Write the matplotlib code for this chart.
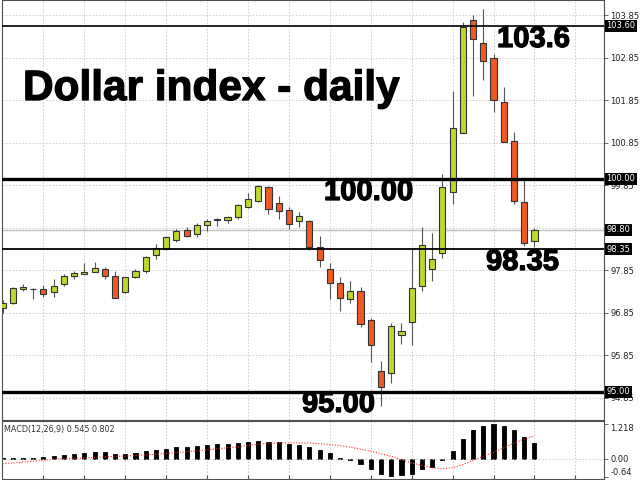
import matplotlib
matplotlib.use('Agg')
import matplotlib.pyplot as plt
import matplotlib.transforms as mtransforms
import matplotlib.patheffects as pe

# daily candles (oldest -> newest)
opens = [96.96, 97.09, 97.42, 97.42, 97.42, 97.33, 97.52, 97.72, 97.76, 97.80,
         97.88, 97.71, 97.33, 97.69, 97.84, 98.20, 98.35, 98.56, 98.79, 98.70,
         98.92, 99.03, 99.04, 99.11, 99.35, 99.48, 99.80, 99.43, 99.26, 99.02,
         99.00, 98.41, 97.88, 97.55, 97.17, 97.37, 96.68, 95.49, 95.43, 96.33,
         96.64, 97.48, 97.88, 98.25, 99.69, 101.09, 103.74, 103.19, 102.84, 101.80,
         100.89, 99.45, 98.54]
closes = [97.09, 97.43, 97.47, 97.42, 97.29, 97.48, 97.71, 97.78, 97.81, 97.91,
          97.72, 97.21, 97.69, 97.84, 98.16, 98.38, 98.63, 98.78, 98.67, 98.92,
          99.02, 99.06, 99.10, 99.39, 99.52, 99.84, 99.29, 99.24, 98.94, 99.13,
          98.41, 98.09, 97.56, 97.19, 97.37, 96.60, 96.09, 95.10, 96.54, 96.42,
          97.43, 98.45, 98.11, 99.82, 101.19, 103.58, 103.29, 102.78, 101.86, 100.86,
          99.47, 98.50, 98.80]
highs = [97.15, 97.45, 97.52, 97.44, 97.50, 97.64, 97.76, 97.84, 98.02, 98.05,
         97.92, 97.84, 97.70, 97.88, 98.19, 98.46, 98.64, 98.82, 98.88, 98.97,
         99.05, 99.08, 99.13, 99.41, 99.66, 99.86, 99.84, 99.61, 99.33, 99.23,
         99.04, 98.66, 98.02, 97.70, 97.60, 97.45, 96.72, 95.72, 96.62, 96.62,
         98.37, 98.88, 98.72, 100.12, 102.08, 103.70, 103.86, 103.99, 102.94, 102.16,
         101.11, 100.00, 98.85]
lows = [96.85, 97.06, 97.37, 97.18, 97.22, 97.22, 97.48, 97.64, 97.76, 97.80,
        97.65, 97.19, 97.31, 97.66, 97.78, 98.11, 98.33, 98.52, 98.64, 98.63,
        98.78, 98.90, 98.96, 99.05, 99.32, 99.46, 99.18, 99.05, 98.83, 98.88,
        98.33, 97.94, 97.17, 96.90, 97.09, 96.51, 95.70, 94.66, 95.19, 96.12,
        96.09, 97.37, 97.61, 98.13, 99.41, 101.09, 101.94, 102.33, 101.58, 100.86,
        99.41, 98.42, 98.41]

# MACD(12,26,9)
macd_hist = [0.02, 0.02, 0.02, 0.02, 0.07, 0.09, 0.14, 0.16, 0.19, 0.23,
             0.23, 0.16, 0.17, 0.21, 0.26, 0.30, 0.35, 0.41, 0.42, 0.44,
             0.49, 0.52, 0.53, 0.55, 0.59, 0.63, 0.60, 0.58, 0.53, 0.50,
             0.41, 0.30, 0.19, 0.03, -0.05, -0.19, -0.35, -0.52, -0.60, -0.57,
             -0.51, -0.35, -0.28, -0.05, 0.28, 0.70, 0.99, 1.16, 1.218, 1.16,
             0.99, 0.77, 0.545]
macd_signal = [-0.17, -0.14, -0.11, -0.08, -0.05, -0.01, 0.01, 0.02, 0.03, 0.05,
               0.07, 0.09, 0.10, 0.12, 0.14, 0.16, 0.19, 0.22, 0.25, 0.28,
               0.32, 0.35, 0.39, 0.42, 0.47, 0.51, 0.54, 0.56, 0.56, 0.56,
               0.55, 0.53, 0.50, 0.46, 0.41, 0.34, 0.27, 0.18, 0.09, -0.03,
               -0.14, -0.23, -0.31, -0.35, -0.30, -0.20, -0.05, 0.09, 0.23, 0.38,
               0.55, 0.69, 0.80]

price_ticks = [94.85, 95.85, 96.85, 97.85, 98.85, 99.85, 100.85, 101.85, 102.85, 103.85]
price_tick_labels = ['94.85', '95.85', '96.85', '97.85', '', '99.85',
                     '100.85', '101.85', '102.85', '103.85']
levels = [103.60, 100.00, 98.35, 95.00]
level_widths = [1.2, 2.4, 1.3, 2.4]
bid = 98.80
box_labels = ['103.60', '100.00', '98.80', '98.35', '95.00']
box_values = [103.60, 100.00, 98.80, 98.35, 95.00]
macd_ticks = [1.218, 0.0, -0.64]

up_col = '#bfd62e'
down_col = '#ef5a24'
grid_kw = dict(color='#c8c8c8', ls=(0, (2, 2)), lw=0.6)
spine_col = '#505050'

W, H = 640, 480
fig = plt.figure(figsize=(6.4, 4.8), dpi=100)
ax = fig.add_axes([2 / W, 60 / H, 602 / W, 420 / H])
ax2 = fig.add_axes([2 / W, 1 / H, 602 / W, 58 / H], sharex=ax)

x = list(range(len(opens)))

# candles
ax.vlines(x, lows, highs, color='#555555', lw=0.8, zorder=2)
bottoms = [min(o, c) for o, c in zip(opens, closes)]
heights = [abs(c - o) for o, c in zip(opens, closes)]
cols = [up_col if c > o else (down_col if c < o else 'black') for o, c in zip(opens, closes)]
ax.bar(x, heights, bottom=bottoms, width=0.6, color=cols, edgecolor='#333333',
       linewidth=0.8, zorder=3)

ax.axhline(bid, color='#c0c0c0', lw=1.0, zorder=1)
for lv, lw in zip(levels, level_widths):
    ax.axhline(lv, color='black', lw=lw, zorder=4)

ax.set_xlim(-0.05, 58.8)
ax.set_ylim(94.33, 104.21)
ax.set_yticks(price_ticks)
ax.set_yticklabels(price_tick_labels)
ax.set_xticks(range(4, 57, 4))
ax.yaxis.tick_right()
ax.tick_params(axis='y', length=3, width=0.6, color=spine_col, labelsize=6,
               labelcolor='#222222', pad=1.5)
ax.tick_params(axis='x', length=0, labelbottom=False)
ax.grid(True, **grid_kw)
ax.set_axisbelow(True)

blend = mtransforms.blended_transform_factory(ax.transAxes, ax.transData)
for lab, v in zip(box_labels, box_values):
    ax.text(1.004, v, lab, transform=blend, ha='left', va='center', fontsize=6,
            color='white', zorder=10, clip_on=False,
            bbox=dict(boxstyle='square,pad=0.18', fc='black', ec='none'))

# MACD panel
ax2.bar(x, macd_hist, width=0.4, color='black', edgecolor='black', linewidth=0.6)
ax2.plot(x, macd_signal, color='#ff3030', ls=(0, (1, 1.5)), lw=0.8)
ax2.axhline(0, **grid_kw)
ax2.set_ylim(-0.70, 1.32)
ax2.set_yticks(macd_ticks)
ax2.set_yticklabels(['1.218', '0.00', '-0.64'])
ax2.yaxis.tick_right()
ax2.tick_params(axis='y', length=3, width=0.6, color=spine_col, labelsize=6,
                labelcolor='#222222', pad=1.5)
labs = ax2.get_yticklabels()
labs[0].set_va('top')
labs[2].set_va('bottom')
ax2.tick_params(axis='x', direction='in', length=3, color=spine_col, labelbottom=False)
ax2.xaxis.grid(True, **grid_kw)
ax2.set_axisbelow(True)
ax2.text(0.004, 0.86, 'MACD(12,26,9) 0.545 0.802', transform=ax2.transAxes,
         fontsize=5.8, color='#333333', ha='left', va='center')

for a in (ax, ax2):
    for s in a.spines.values():
        s.set_color(spine_col)
        s.set_linewidth(0.8)

# annotations
def px(xp, yp):
    return xp / W, 1 - yp / H

heavy = [pe.withStroke(linewidth=0.9, foreground='black')]
big = dict(family='Liberation Sans', weight='bold', color='black', va='baseline',
           ha='left', path_effects=heavy)
fig.text(*px(23, 100), 'Dollar index - daily', fontsize=30.5, **big)
fig.text(*px(497, 47), '103.6', fontsize=21, **big)
fig.text(*px(324, 200), '100.00', fontsize=21, **big)
fig.text(*px(486, 270), '98.35', fontsize=21, **big)
fig.text(*px(302, 412), '95.00', fontsize=21, **big)

fig.savefig('out.png', dpi=100)
